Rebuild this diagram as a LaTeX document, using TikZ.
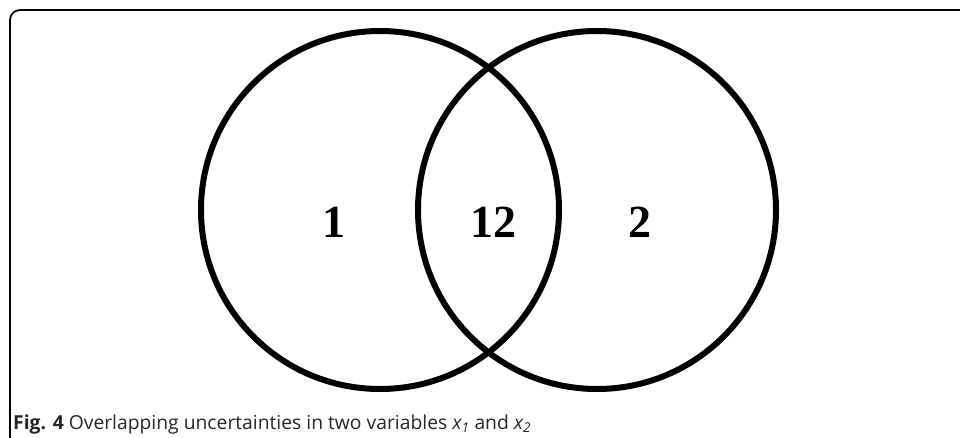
\documentclass[tikz,border=0pt]{standalone}
\usepackage{fontspec}
\setmainfont{Liberation Serif}
\setsansfont{Open Sans}
\usetikzlibrary{positioning}
\tikzset{
    setcircle/.style={draw, circle, line width=6pt, minimum size=358pt, inner sep=0pt},
    setlabel/.style={font=\fontsize{46}{46}\selectfont\bfseries, inner sep=0pt},
    captext/.style={font=\sffamily\fontsize{19.3}{21}\selectfont, anchor=base west,
        inner sep=0pt, text=black!85}
}

\begin{document}
\begin{tikzpicture}[x=1pt, y=-1pt]
\useasboundingbox (0,0) rectangle (960,438);
% frame
\draw[line width=1.8pt, rounded corners=10pt] (10,445) -- (10,10) -- (975,10);
% the two sets
\node[setcircle] (setone) at (380,210) {};
\node[setcircle] (settwo) at (597,210) {};
\node[setlabel] (labone) at (334,222) {1};
\node[setlabel] (labboth) at (493,222) {12};
\node[setlabel] (labtwo) at (640,222) {2};
% caption
\node[captext] (caption) at (13,429) {\textbf{Fig. 4} Overlapping uncertainties in two variables \textit{x\textsubscript{1}} and \textit{x\textsubscript{2}}};
\end{tikzpicture}
\end{document}
